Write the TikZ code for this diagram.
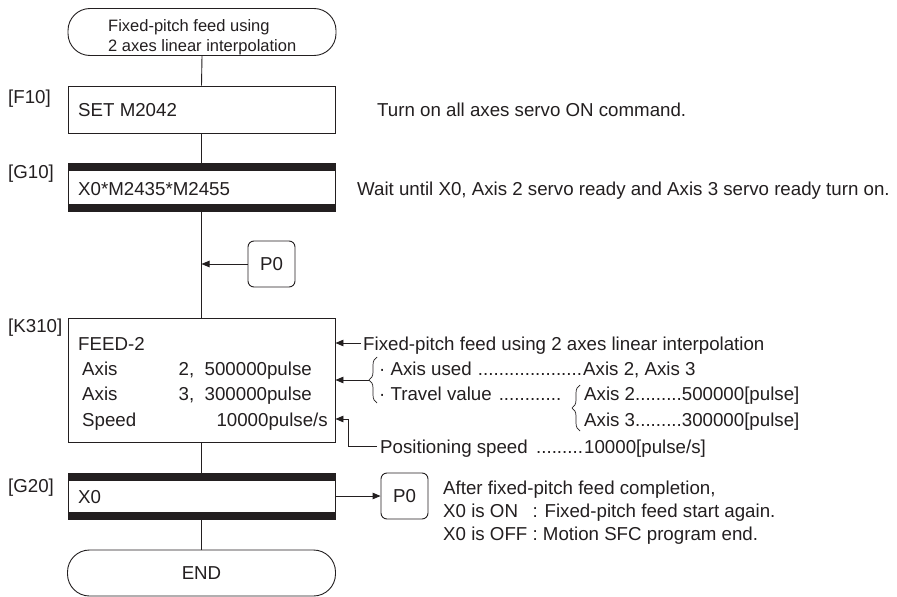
\documentclass[tikz,border=0pt]{standalone}
\usepackage{fontspec}
\setmainfont{Liberation Sans}
\usetikzlibrary{arrows.meta,decorations.pathreplacing,calc}
\definecolor{ink}{HTML}{231F20}
\newcommand{\bdf}{\fontsize{18.7}{22}\selectfont}
\newcommand{\smf}{\fontsize{16.5}{20}\selectfont}
\newcommand{\dl}{\leaders\hbox to 5.2pt{\hss.\hss}\hfill}
\begin{document}
\begin{tikzpicture}[x=1pt,y=-1pt,
  lbl/.style={anchor=base west, inner sep=0pt, text=ink, font=\bdf},
  lble/.style={anchor=base east, inner sep=0pt, text=ink, font=\bdf},
  conn/.style={draw=ink, line width=0.9pt},
  arr/.style={draw=ink, line width=0.9pt, -{Triangle[length=8pt,width=6.5pt]}},
  stepbox/.style={draw=ink, line width=0.9pt, minimum width=267pt, inner sep=0pt},
  transbox/.style={stepbox, path picture={
      \fill[ink] (path picture bounding box.north west) rectangle ([yshift=-7.5pt]path picture bounding box.north east);
      \fill[ink] (path picture bounding box.south west) rectangle ([yshift=7.5pt]path picture bounding box.south east);}},
  term/.style={draw=ink, line width=0.9pt, rounded corners=22pt, minimum width=268pt, minimum height=47pt, inner sep=0pt, text=ink, font=\bdf},
  pbox/.style={draw=ink, line width=0.9pt, rounded corners=6pt, minimum width=47pt, minimum height=46pt, inner sep=0pt, text=ink, font=\bdf},
  brc/.style={draw=ink, line width=0.7pt, decorate, decoration={brace, amplitude=8pt}}]
\useasboundingbox[fill=white] (0,0) rectangle (897,597);

% start terminal
\node[term] (start) at (202,32) {};
\node[lbl, font=\smf] (st1) at (108,31) {Fixed-pitch feed using};
\node[lbl, font=\smf] (st2) at (108,51) {2 axes linear interpolation};

% F10
\node[stepbox, minimum height=47pt] (f10) at (201.5,109.5) {};
\node[lbl] (f10l) at (8,103) {[F10]};
\node[lbl] (f10t) at (78,116) {SET M2042};
\node[lbl] (f10c) at (377,116) {Turn on all axes servo ON command.};

% G10
\node[transbox, minimum height=48pt] (g10) at (201.5,187) {};
\node[lbl] (g10l) at (8,178) {[G10]};
\node[lbl] (g10t) at (78,195) {X0*M2435*M2455};
\node[lbl] (g10c) at (357,195) {Wait until X0, Axis 2 servo ready and Axis 3 servo ready turn on.};

% P0 jump-in
\node[pbox] (p0a) at (271.5,264) {P0};

% K310
\node[stepbox, minimum height=124pt] (k310) at (201.5,380) {};
\node[lbl] (k310l) at (8,332) {[K310]};
\node[lbl] (k1) at (78,350) {FEED-2};
\node[lbl] (k2a) at (82,375) {Axis};
\node[lble] (k2b) at (312,375) {2,\ \ 500000pulse};
\node[lbl] (k3a) at (82,400) {Axis};
\node[lble] (k3b) at (312,400) {3,\ \ 300000pulse};
\node[lbl] (k4a) at (82,426) {Speed};
\node[lble] (k4b) at (328,426) {10000pulse/s};

% K310 comments
\coordinate (a1s) at (361,343);
\node[lbl] (c1) at (363,350) {Fixed-pitch feed using 2 axes linear interpolation};
\draw[brc] (377,403) -- (377,357);
\coordinate (b1) at (369,380);
\node[lbl] (c2) at (379,375) {\makebox[204pt][l]{· Axis used \dl}Axis 2, Axis 3};
\node[lbl] (c3) at (379,400) {\makebox[187pt][l]{· Travel value \dl}};
\draw[brc] (580,431) -- (580,385);
\node[lbl] (c4) at (584,400) {Axis 2.........500000[pulse]};
\node[lbl] (c5) at (584,426) {Axis 3.........300000[pulse]};
\coordinate (a3s) at (377,446);
\coordinate (a3c) at (348,419);
\node[lbl] (c6) at (380,453) {\makebox[204pt][l]{Positioning speed \dl}10000[pulse/s]};

% G20
\node[transbox, minimum height=46pt] (g20) at (201.5,496) {};
\node[lbl] (g20l) at (8,492) {[G20]};
\node[lbl] (g20t) at (78,503) {X0};
\node[pbox] (p0b) at (404.5,496) {P0};
\node[lbl] (e1) at (443,494) {After fixed-pitch feed completion,};
\node[lbl] (e2) at (443,517) {\rlap{X0 is ON}\phantom{X0 is OFF} : Fixed-pitch feed start again.};
\node[lbl] (e3) at (443,540) {X0 is OFF : Motion SFC program end.};

% END
\node[term, minimum height=46pt] (endt) at (201.5,573) {END};

% connectors
\draw[conn] (start.south) -- (f10.north);
\draw[conn] (f10.south) -- (g10.north);
\draw[conn] (g10.south) -- (k310.north);
\draw[conn] (k310.south) -- (g20.north);
\draw[conn] (g20.south) -- (endt.north);
\draw[arr] (p0a.west) -- (p0a.west -| g10.south);
\draw[arr] (g20.east) -- (p0b.west);
\draw[arr] (a1s) -- (a1s -| k310.east);
\draw[arr] (b1) -- (b1 -| k310.east);
\draw[arr] (a3s) -| (a3c) -- (a3c -| k310.east);
\end{tikzpicture}
\end{document}
